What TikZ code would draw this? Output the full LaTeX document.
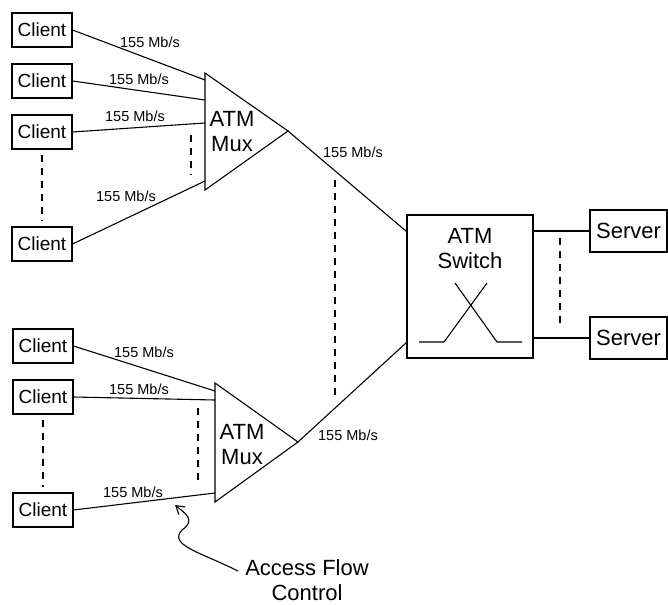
\documentclass[tikz,border=0pt]{standalone}
\usepackage{fontspec}
\setmainfont{Liberation Sans}
\usetikzlibrary{arrows.meta}
\tikzset{
  client/.style={draw, line width=1.1pt, minimum width=60pt, minimum height=34pt, inner sep=0pt, font=\fontsize{19}{22}\selectfont},
  server/.style={draw, line width=1.1pt, minimum width=77pt, minimum height=42pt, inner sep=0pt, font=\fontsize{22}{25}\selectfont},
  switchbox/.style={draw, line width=1.1pt, minimum width=126pt, minimum height=143pt, inner sep=0pt},
  rate/.style={font=\fontsize{14.5}{17}\selectfont},
  bigtext/.style={align=center, inner sep=0pt, font=\fontsize{22}{25}\selectfont},
  link/.style={line width=1.1pt},
  dots/.style={line width=1.1pt, dash pattern=on 7pt off 6pt},
}
\begin{document}
\begin{tikzpicture}[x=1pt,y=-1pt]
\useasboundingbox (0,0) rectangle (668,604);
% upper group
\node[client] (c1) at (42,30) {Client};
\node[client] (c2) at (42,81) {Client};
\node[client] (c3) at (42,132) {Client};
\node[client] (c4) at (42,244) {Client};
\draw[link] (205,73) coordinate (mx1a) -- (288,131) coordinate (mx1tip) -- (205,190) coordinate (mx1b) -- cycle;
\node[bigtext] (mx1) at (232,132) {ATM\\Mux};
\coordinate (m1in1) at (205,80);
\coordinate (m1in2) at (205,100);
\coordinate (m1in3) at (205,123);
\coordinate (m1in4) at (205,181);
\draw[link] (c1.east) -- (m1in1);
\draw[link] (c2.east) -- (m1in2);
\draw[link] (c3.east) -- (m1in3);
\draw[link] (c4.east) -- (m1in4);
\node[rate] at (150,42) {155 Mb/s};
\node[rate] at (139,79) {155 Mb/s};
\node[rate] at (135,116) {155 Mb/s};
\node[rate] at (126,196) {155 Mb/s};
\draw[dots] (c3.south) ++(0,5) -- ([yshift=5pt]c4.north);
\draw[dots] (191,135) -- (191,175);
% lower group
\node[client] (b1) at (43,346) {Client};
\node[client] (b2) at (43,397) {Client};
\node[client] (b3) at (43,510) {Client};
\draw[link] (215,383) coordinate (mx2a) -- (298,442) coordinate (mx2tip) -- (215,502) coordinate (mx2b) -- cycle;
\node[bigtext] (mx2) at (242,445) {ATM\\Mux};
\coordinate (m2in1) at (215,391);
\coordinate (m2in2) at (215,400);
\coordinate (m2in3) at (215,493);
\draw[link] (b1.east) -- (m2in1);
\draw[link] (b2.east) -- (m2in2);
\draw[link] (b3.east) -- (m2in3);
\node[rate] at (144,352) {155 Mb/s};
\node[rate] at (139,389) {155 Mb/s};
\node[rate] at (133,492) {155 Mb/s};
\draw[dots] (b2.south) ++(0,5) -- ([yshift=5pt]b3.north);
\draw[dots] (198,408) -- (198,483);
% switch and servers
\node[switchbox] (sw) at (470,286.5) {};
\node[bigtext] (swtext) at (470,249) {ATM\\Switch};
\draw[link] (419,342) -- (444,342) -- (487,283);
\draw[link] (455,283) -- (497,342) -- (522,342);
\draw[link] (mx1tip) -- ([yshift=-17pt]sw.north west);
\draw[link] (mx2tip) -- ([yshift=16pt]sw.south west);
\node[rate] at (353,152) {155 Mb/s};
\node[rate] at (348,435) {155 Mb/s};
\draw[dots] (335,180) -- (335,397);
\node[server] (s1) at (628.5,231) {Server};
\node[server] (s2) at (628.5,338) {Server};
\draw[link] (sw.east |- s1.west) -- (s1.west);
\draw[link] (sw.east |- s2.west) -- (s2.west);
\draw[dots] (560,238) -- (560,323);
% access flow control
\node[bigtext] (afc) at (307,580) {Access Flow\\Control};
\coordinate (tail) at (238,571);
\coordinate (head) at (175,505);
\draw[link, -{Straight Barb[length=8pt,width=10pt]}] (tail) .. controls (200,552) and (168,545) .. (182,530) .. controls (196,520) and (186,514) .. (head);
\end{tikzpicture}
\end{document}
